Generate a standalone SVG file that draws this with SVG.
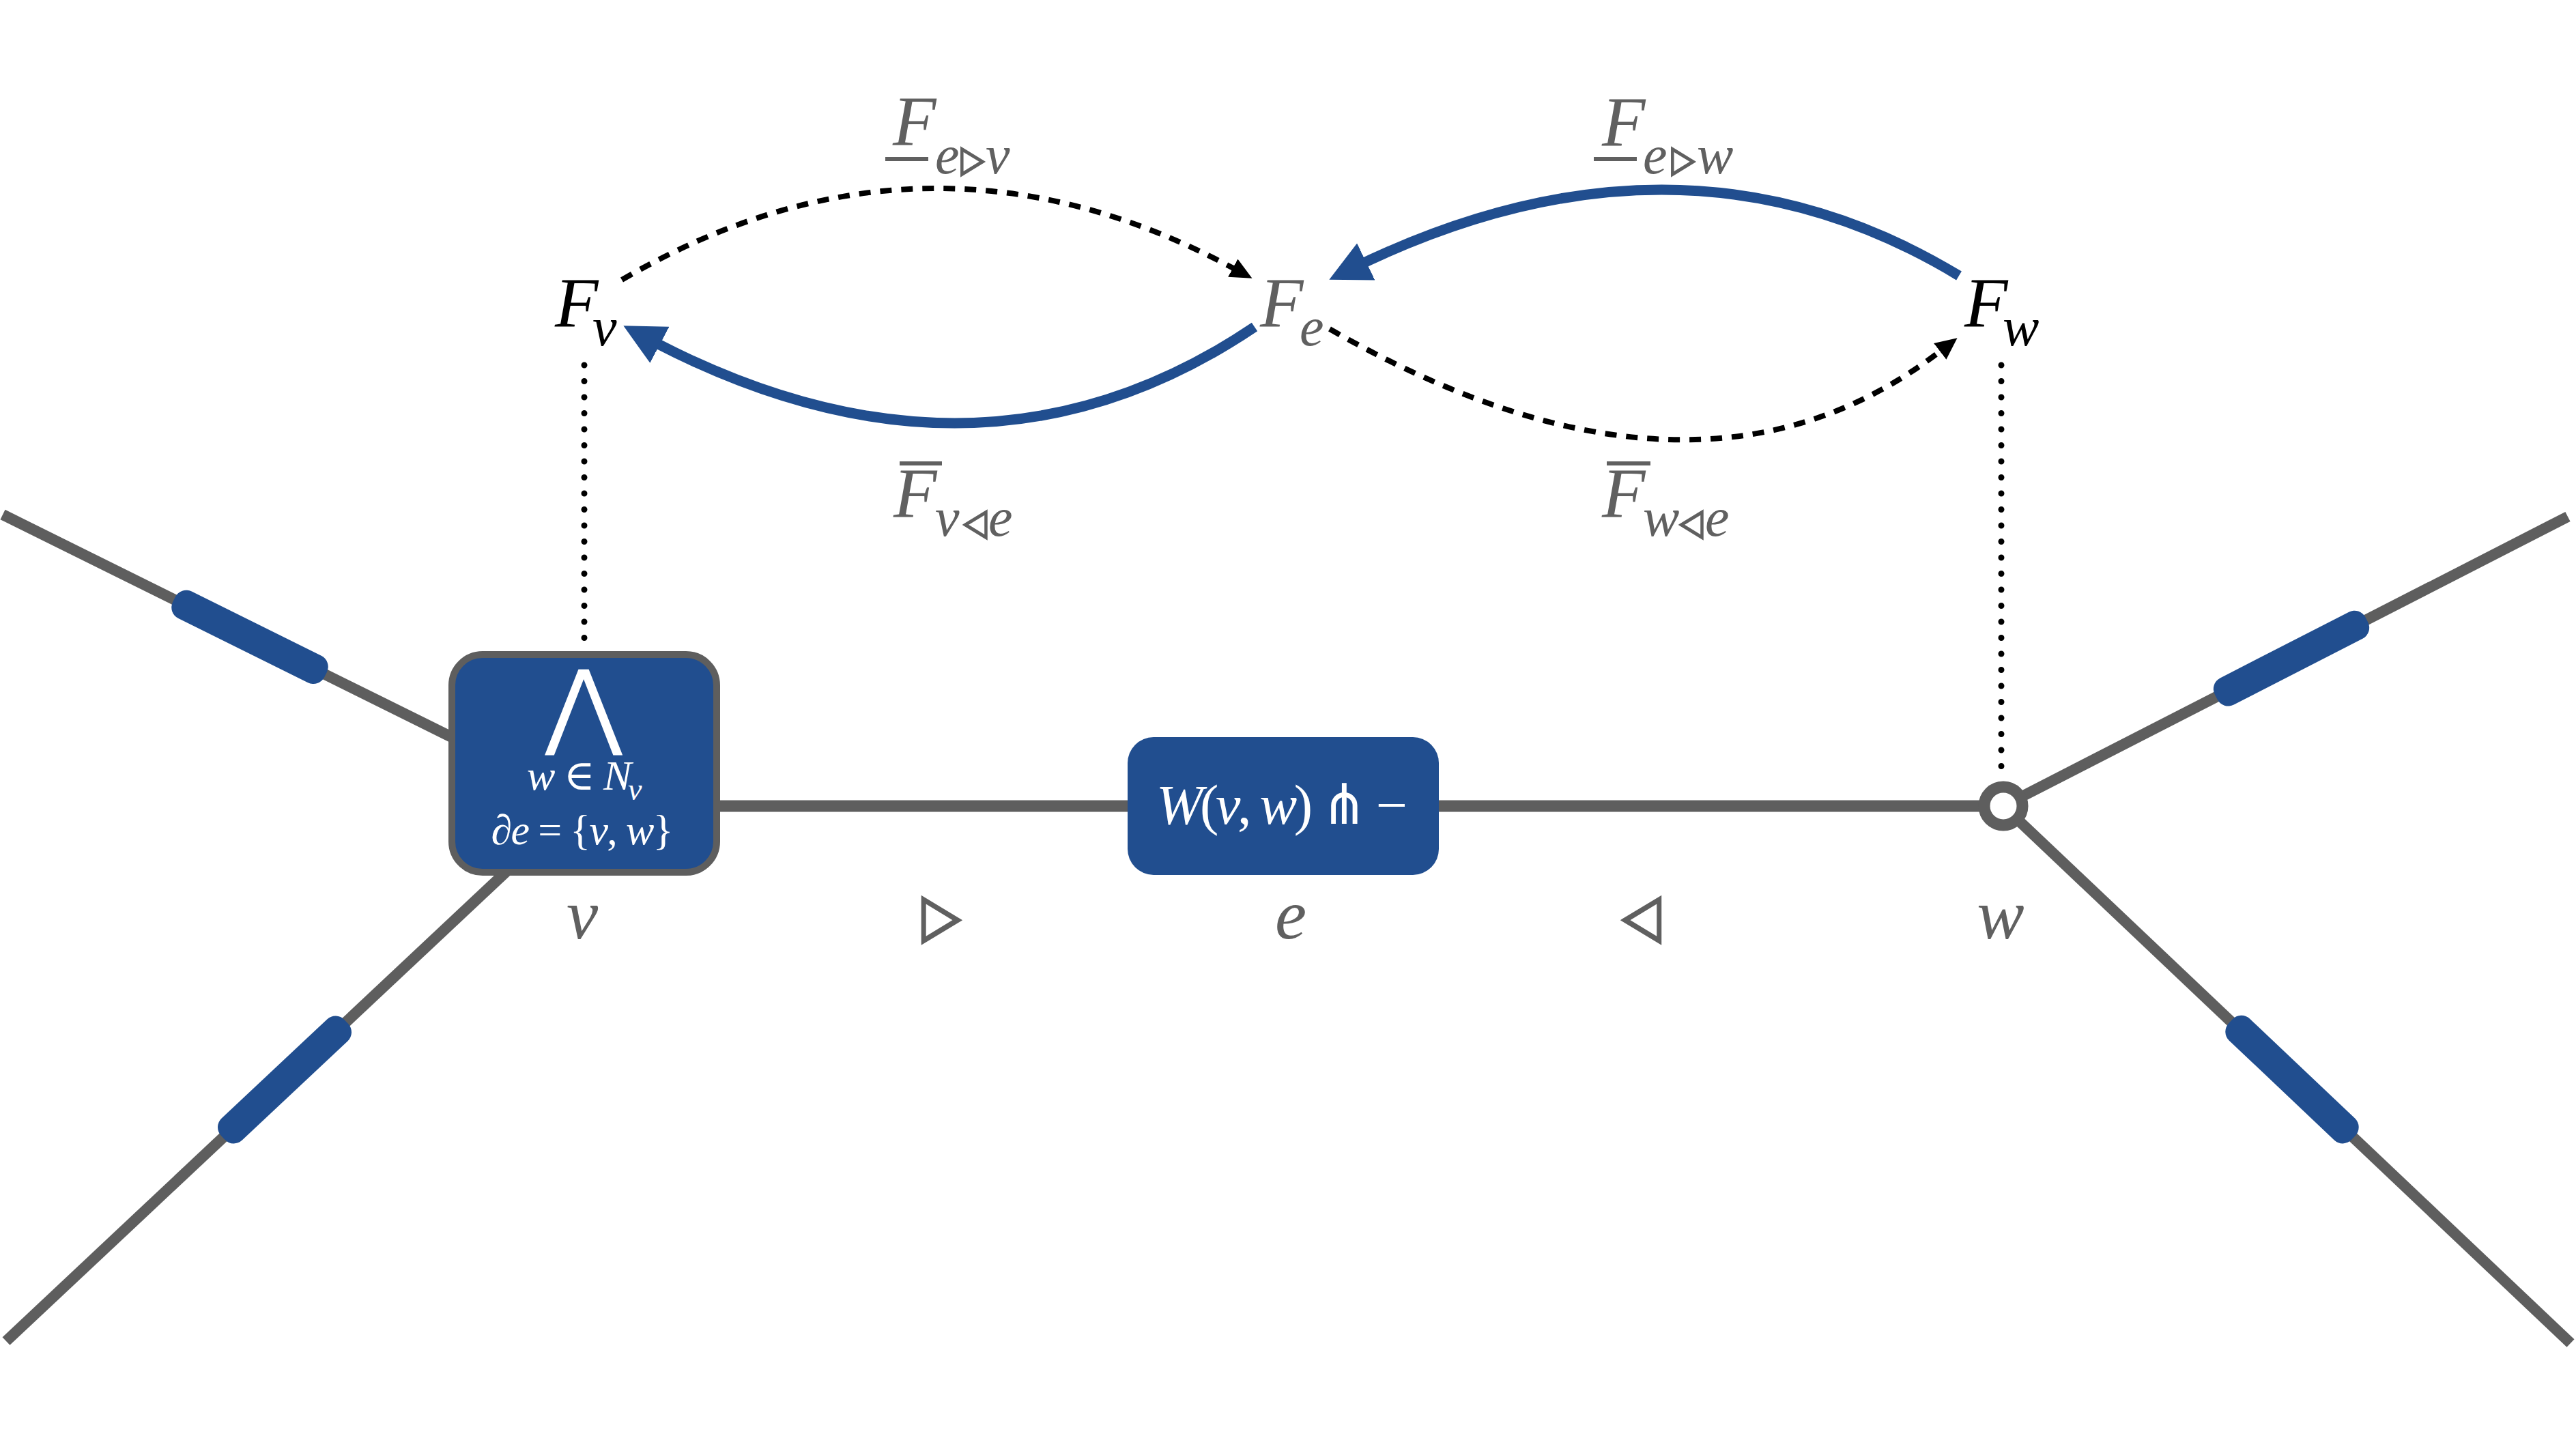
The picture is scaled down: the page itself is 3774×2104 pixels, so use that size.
<svg xmlns="http://www.w3.org/2000/svg" width="3774" height="2104" viewBox="0 0 3774 2104">
<style>
.edge{stroke:#5e5e5e;stroke-width:16;fill:none}
.main{stroke:#5e5e5e;stroke-width:17;fill:none}
.seg{fill:#214e8f}
.barrow{stroke:#214e8f;stroke-width:15;fill:none}
.dash{stroke:#000;stroke-width:8;stroke-dasharray:17 14;fill:none}
.dot{stroke:#000;stroke-width:9;stroke-linecap:round;stroke-dasharray:0 23.5;fill:none}
text{font-family:"Liberation Serif","DejaVu Serif",serif;font-style:italic}
.up{font-style:normal}
.g{fill:#606060}
.k{fill:#000}
.w{fill:#fff}
.tri{font-family:"DejaVu Sans",sans-serif;font-style:normal;stroke:#606060}
.big{stroke-width:3.5}
.small{stroke-width:2.5}
</style>
<defs>
<marker id="ab" viewBox="-20 -30 60 60" refX="0" refY="0" markerWidth="60" markerHeight="60" markerUnits="userSpaceOnUse" orient="auto"><path d="M-20,-30 L40,0 L-20,30 z" fill="#214e8f"/></marker>
<marker id="ak" viewBox="-2 -15 32 30" refX="0" refY="0" markerWidth="32" markerHeight="30" markerUnits="userSpaceOnUse" orient="auto"><path d="M-2,-15 L30,0 L-2,15 z" fill="#000"/></marker>
</defs>
<rect width="3774" height="2104" fill="#fff"/>

<g id="edges">
<line class="edge" x1="4" y1="754" x2="700" y2="1099"/>
<line class="edge" x1="9" y1="1965" x2="760" y2="1260"/>
<line class="edge" x1="2935" y1="1181" x2="3762" y2="757"/>
<line class="edge" x1="2935" y1="1181" x2="3766" y2="1968"/>
<line class="main" x1="1000" y1="1181" x2="2935" y2="1181"/>
<rect class="seg" x="-124" y="-22" width="248" height="44" rx="18" transform="translate(366 933.4) rotate(26.37)"/>
<rect class="seg" x="-124" y="-22" width="248" height="44" rx="18" transform="translate(417 1582) rotate(-43.2)"/>
<rect class="seg" x="-124" y="-22" width="248" height="44" rx="18" transform="translate(3357 964.6) rotate(-27.15)"/>
<rect class="seg" x="-124" y="-22" width="248" height="44" rx="18" transform="translate(3358 1581.6) rotate(43.45)"/>
</g>

<g id="connectors">
<line class="dot" x1="856" y1="535" x2="856" y2="946"/>
<line class="dot" x1="2932" y1="535" x2="2932" y2="1137"/>
<path class="dash" d="M911,410 Q1356.2,150.5 1808,393.6" marker-end="url(#ak)"/>
<path class="dash" d="M1948,482 Q2486.4,790 2843.8,513.6" marker-end="url(#ak)"/>
<path class="barrow" d="M1838,479 Q1432.5,752.2 948.7,496" marker-end="url(#ab)"/>
<path class="barrow" d="M2870,404 Q2463.9,158 1983.3,392.2" marker-end="url(#ab)"/>
</g>

<g id="node-v">
<rect x="662" y="959" width="388" height="319" rx="45" fill="#214e8f" stroke="#5e5e5e" stroke-width="10"/>
<text class="w" x="855" y="1080" font-size="138" text-anchor="middle" style="font-family:'DejaVu Sans',sans-serif;font-style:normal">⋀</text>
<text class="w" y="1157" font-size="62"><tspan x="772">w</tspan><tspan class="up" x="826">∈</tspan><tspan x="884">N</tspan><tspan x="920" y="1172" font-size="46">v</tspan></text>
<text class="w" x="853" y="1237" font-size="62" text-anchor="middle" textLength="267" lengthAdjust="spacing">∂e <tspan class="up">= {</tspan>v<tspan class="up">, </tspan>w<tspan class="up">}</tspan></text>
<text class="g" x="853" y="1375" font-size="104" text-anchor="middle">v</text>
</g>

<g id="node-e">
<rect x="1652" y="1080" width="456" height="202" rx="38" fill="#214e8f"/>
<text class="w" x="1878" y="1207" font-size="82" text-anchor="middle" textLength="368" lengthAdjust="spacing">W<tspan class="up">(</tspan>v<tspan class="up">, </tspan>w<tspan class="up">) ⋔ −</tspan></text>
<text class="g" x="1891" y="1375" font-size="104" text-anchor="middle">e</text>
</g>

<g id="node-w">
<circle cx="2935" cy="1181" r="28" fill="#fff" stroke="#5e5e5e" stroke-width="17"/>
<text class="g" x="2931" y="1375" font-size="104" text-anchor="middle">w</text>
</g>

<g id="orient-labels">
<text class="g tri big" font-size="88" text-anchor="middle" transform="translate(1379 1371) scale(0.83 1)">▷</text>
<text class="g tri big" font-size="88" text-anchor="middle" transform="translate(2405 1371) scale(0.83 1)">◁</text>
</g>

<g id="node-Fv">
<text class="k" font-size="104"><tspan x="813" y="479">F</tspan><tspan x="868" y="506" font-size="80">v</tspan></text>
</g>
<g id="node-Fe">
<text class="g" font-size="104"><tspan x="1846" y="479">F</tspan><tspan x="1904" y="506" font-size="80">e</tspan></text>
</g>
<g id="node-Fw">
<text class="k" font-size="104"><tspan x="2878" y="479">F</tspan><tspan x="2934" y="506" font-size="80">w</tspan></text>
</g>

<g id="labels">
<g id="lab-ev">
<text class="g" font-size="104"><tspan x="1308" y="213">F</tspan><tspan x="1370" y="254" font-size="80">e</tspan><tspan x="1444" y="254" font-size="80">v</tspan></text>
<text class="g tri small" font-size="54" text-anchor="middle" transform="translate(1425 251) scale(0.82 1)">▷</text>
<rect x="1297" y="230" width="63" height="6" fill="#606060"/>
</g>
<g id="lab-ew">
<text class="g" font-size="104"><tspan x="2347" y="214">F</tspan><tspan x="2407" y="254" font-size="80">e</tspan><tspan x="2486" y="254" font-size="80">w</tspan></text>
<text class="g tri small" font-size="54" text-anchor="middle" transform="translate(2466 251) scale(0.82 1)">▷</text>
<rect x="2335" y="230" width="63" height="6" fill="#606060"/>
</g>
<g id="lab-ve">
<text class="g" font-size="104"><tspan x="1309" y="758">F</tspan><tspan x="1370" y="785" font-size="80">v</tspan><tspan x="1448" y="785" font-size="80">e</tspan></text>
<text class="g tri small" font-size="54" text-anchor="middle" transform="translate(1429 783) scale(0.82 1)">◁</text>
<rect x="1318" y="676" width="62" height="6" fill="#606060"/>
</g>
<g id="lab-we">
<text class="g" font-size="104"><tspan x="2347" y="758">F</tspan><tspan x="2407" y="785" font-size="80">w</tspan><tspan x="2498" y="785" font-size="80">e</tspan></text>
<text class="g tri small" font-size="54" text-anchor="middle" transform="translate(2478 783) scale(0.82 1)">◁</text>
<rect x="2354" y="676" width="64" height="6" fill="#606060"/>
</g>
</g>
</svg>
